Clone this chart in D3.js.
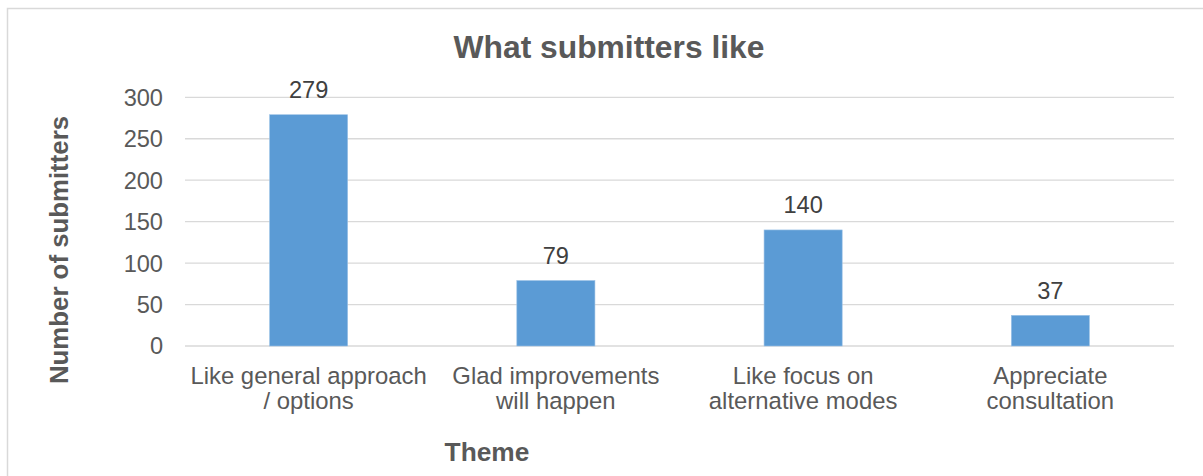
<!DOCTYPE html>
<html>
<head>
<meta charset="utf-8">
<script src="https://cdn.jsdelivr.net/npm/d3@7"></script>
<style>
  html, body { margin: 0; padding: 0; background: #fff; }
  svg { display: block; font-family: "Liberation Sans", Arial, sans-serif; }
</style>
</head>
<body>
<svg id="chart" width="1203" height="476"></svg>
<script>
const categories = [
  ["Like general approach", "/ options"],
  ["Glad improvements", "will happen"],
  ["Like focus on", "alternative modes"],
  ["Appreciate", "consultation"]
];
const values = [279, 79, 140, 37];
const yTicks = [0, 50, 100, 150, 200, 250, 300];
const title = "What submitters like";
const yTitle = "Number of submitters";
const xTitle = "Theme";

const svg = d3.select("#chart");
const W = 1203, H = 476;
const plotLeft = 185, plotRight = 1174, plotTop = 97.3, plotBottom = 346;

// outer border
svg.append("rect")
  .attr("x", 7.5).attr("y", 8.5)
  .attr("width", W + 10).attr("height", H + 10)
  .attr("fill", "#fff").attr("stroke", "#d9d9d9").attr("stroke-width", 1.5);

const x = d3.scaleBand()
  .domain(d3.range(categories.length))
  .range([plotLeft, plotRight])
  .paddingInner(0.684)
  .paddingOuter(0.342);

const y = d3.scaleLinear().domain([0, 300]).range([plotBottom, plotTop]);

// gridlines
svg.append("g").selectAll("line").data(yTicks).join("line")
  .attr("x1", plotLeft).attr("x2", plotRight)
  .attr("y1", d => y(d)).attr("y2", d => y(d))
  .attr("stroke", "#d9d9d9").attr("stroke-width", 1.3);

// y tick labels
svg.append("g").selectAll("text").data(yTicks).join("text")
  .attr("x", 163).attr("y", d => y(d))
  .attr("dy", "0.36em")
  .attr("text-anchor", "end")
  .attr("font-size", 23.6)
  .attr("fill", "#595959")
  .text(d => d);

// bars
svg.append("g").selectAll("rect").data(values).join("rect")
  .attr("x", (d, i) => x(i))
  .attr("width", x.bandwidth())
  .attr("y", d => y(d))
  .attr("height", d => y(0) - y(d))
  .attr("fill", "#5b9bd5")
  .attr("stroke", "#9dc3e6").attr("stroke-width", 0.6);

// data labels
svg.append("g").selectAll("text").data(values).join("text")
  .attr("x", (d, i) => x(i) + x.bandwidth() / 2)
  .attr("y", d => y(d) - 16.6)
  .attr("text-anchor", "middle")
  .attr("font-size", 23.6)
  .attr("fill", "#404040")
  .text(d => d);

// category labels
const cat = svg.append("g").selectAll("text").data(categories).join("text")
  .attr("x", (d, i) => x(i) + x.bandwidth() / 2)
  .attr("y", 384)
  .attr("text-anchor", "middle")
  .attr("font-size", 23.9)
  .attr("fill", "#595959");
cat.selectAll("tspan").data(d => d).join("tspan")
  .attr("x", function() { return d3.select(this.parentNode).attr("x"); })
  .attr("dy", (d, i) => i === 0 ? 0 : 24.5)
  .text(d => d);

// title
svg.append("text")
  .attr("x", 609).attr("y", 58)
  .attr("text-anchor", "middle")
  .attr("font-size", 31.8).attr("font-weight", "bold")
  .attr("fill", "#595959")
  .text(title);

// y axis title
svg.append("text")
  .attr("transform", "translate(68,250) rotate(-90)")
  .attr("text-anchor", "middle")
  .attr("font-size", 25.8).attr("font-weight", "bold")
  .attr("fill", "#595959")
  .text(yTitle);

// x axis title
svg.append("text")
  .attr("x", 487).attr("y", 461)
  .attr("text-anchor", "middle")
  .attr("font-size", 26.3).attr("font-weight", "bold")
  .attr("fill", "#595959")
  .text(xTitle);
</script>
</body>
</html>
